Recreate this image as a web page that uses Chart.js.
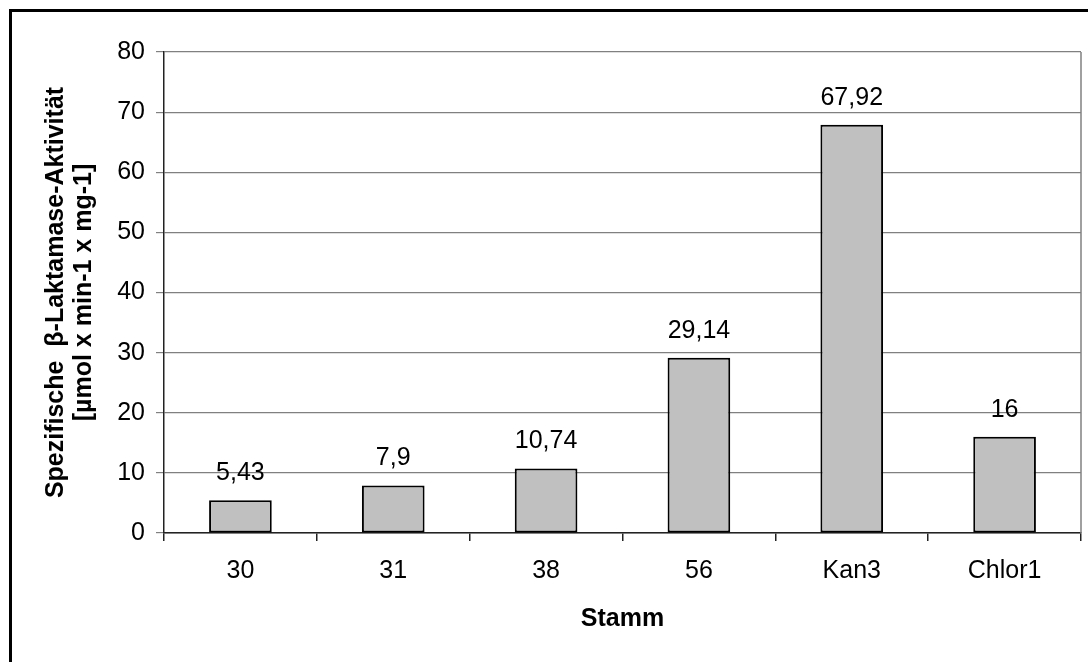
<!DOCTYPE html>
<html><head><meta charset="utf-8">
<script src="https://cdn.jsdelivr.net/npm/chart.js@4"></script>
<style>
html,body{margin:0;padding:0;background:#fff;}
#wrap{position:relative;width:1088px;height:662px;overflow:hidden;background:#fff;}
#frame{position:absolute;left:9px;top:9px;width:1200px;height:800px;border-top:3px solid #000;border-left:3px solid #000;}
canvas{position:absolute;left:0;top:0;}
</style></head><body>
<div id="wrap"><div id="frame"></div><canvas id="c" width="1088" height="662"></canvas></div>
<script>
const categories = ['30', '31', '38', '56', 'Kan3', 'Chlor1'];
const activity = [5.43, 7.9, 10.74, 29.14, 67.92, 16];
const yMin = 0, yMax = 80, yStep = 10;
const yTitle = ['Spezifische  \u03B2-Laktamase-Aktivit\u00E4t', '[\u00B5mol x min-1 x mg-1]'];
const xTitle = 'Stamm';

const FONT = '"Liberation Sans", Arial, sans-serif';

const valueLabels = {
  id: 'valueLabels',
  afterDatasetsDraw(chart) {
    const ctx = chart.ctx;
    const meta = chart.getDatasetMeta(0);
    ctx.save();
    ctx.font = '25px ' + FONT;
    ctx.fillStyle = '#000';
    ctx.textAlign = 'center';
    ctx.textBaseline = 'middle';
    meta.data.forEach((bar, i) => {
      ctx.fillText(String(activity[i]).replace('.', ','), bar.x, bar.y - 27);
    });
    ctx.restore();
  }
};

const plotFrame = {
  id: 'plotFrame',
  beforeDatasetsDraw(chart) {
    const ctx = chart.ctx, a = chart.chartArea;
    ctx.save();
    ctx.strokeStyle = '#808080';
    ctx.lineWidth = 1.5;
    ctx.beginPath();
    ctx.moveTo(a.right, a.top);
    ctx.lineTo(a.right, a.bottom);
    ctx.stroke();
    ctx.restore();
  }
};

new Chart(document.getElementById('c'), {
  type: 'bar',
  data: {
    labels: categories,
    datasets: [{
      data: activity,
      backgroundColor: '#c0c0c0',
      borderColor: '#000',
      borderWidth: 2,
      borderSkipped: false,
      barPercentage: 0.41,
      categoryPercentage: 1
    }]
  },
  options: {
    responsive: false,
    animation: false,
    devicePixelRatio: 1,
    layout: { padding: { left: 0, top: 52, right: 7, bottom: 0 } },
    plugins: { legend: { display: false }, tooltip: { enabled: false } },
    scales: {
      x: {
        afterFit(s) { s.height = 129; },
        grid: { offset: true, drawOnChartArea: false, drawTicks: true, tickLength: 8, color: '#222', lineWidth: 1.5 },
        border: { display: true, color: '#222', width: 1.5 },
        ticks: { color: '#000', padding: 15, font: { family: FONT, size: 25 } },
        title: { display: true, text: xTitle, color: '#000', padding: { top: 0, bottom: 28 }, font: { family: FONT, size: 25, weight: 'bold', lineHeight: 1.2 } }
      },
      y: {
        min: yMin, max: yMax,
        afterFit(s) { s.width = 164; },
        grid: { color: '#808080', lineWidth: 1.2, tickLength: 8 },
        border: { display: true, color: '#222', width: 1.5 },
        ticks: { stepSize: yStep, color: '#000', padding: 11, font: { family: FONT, size: 25 } },
        title: { display: true, text: yTitle, color: '#000', padding: { top: 42, bottom: 0 }, font: { family: FONT, size: 25, weight: 'bold', lineHeight: 1.12 } }
      }
    }
  },
  plugins: [valueLabels, plotFrame]
});
</script>
</body></html>
